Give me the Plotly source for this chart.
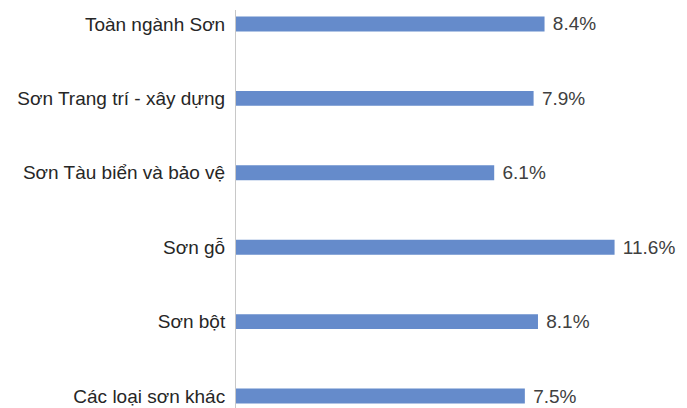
import plotly.graph_objects as go

categories = ["Toàn ngành Sơn", "Sơn Trang trí - xây dựng", "Sơn Tàu biển và bảo vệ",
              "Sơn gỗ", "Sơn bột", "Các loại sơn khác"]
values = [8.4, 7.9, 6.1, 11.6, 8.1, 7.5]
labels = [f"{v:.1f}%" for v in values]

AXIS_MIN = -5.7
AXIS_MAX = 14.91

cats = categories[::-1]
vals = values[::-1]
labs = labels[::-1]

FONT = "Liberation Sans, Arial, sans-serif"

fig = go.Figure(go.Bar(
    y=cats, x=[v - AXIS_MIN for v in vals], base=AXIS_MIN, orientation="h",
    marker=dict(color="#658bcb", line=dict(width=0)),
    width=0.2,
    text=labs, texttemplate=" %{text}", textposition="outside", cliponaxis=False,
    constraintext="none",
    textfont=dict(family=FONT, size=19, color="#404040"),
    hoverinfo="skip",
))

# page body has an 8px default margin, so the figure is sized/positioned to compensate
fig.update_layout(
    width=679, height=400,
    margin=dict(l=228, r=0, t=2, b=0, autoexpand=False),
    paper_bgcolor="white", plot_bgcolor="white",
    showlegend=False,
)
fig.update_xaxes(range=[AXIS_MIN, AXIS_MAX], visible=False, showgrid=False, zeroline=False,
                 automargin=False)
fig.update_yaxes(range=[-0.161, 5.188], showgrid=False, zeroline=False, automargin=False,
                 showline=True, linecolor="#c8c8c8", linewidth=1,
                 ticks="", ticklabelstandoff=6,
                 tickfont=dict(family=FONT, size=19, color="#262626"))

fig.write_html("out.html")
